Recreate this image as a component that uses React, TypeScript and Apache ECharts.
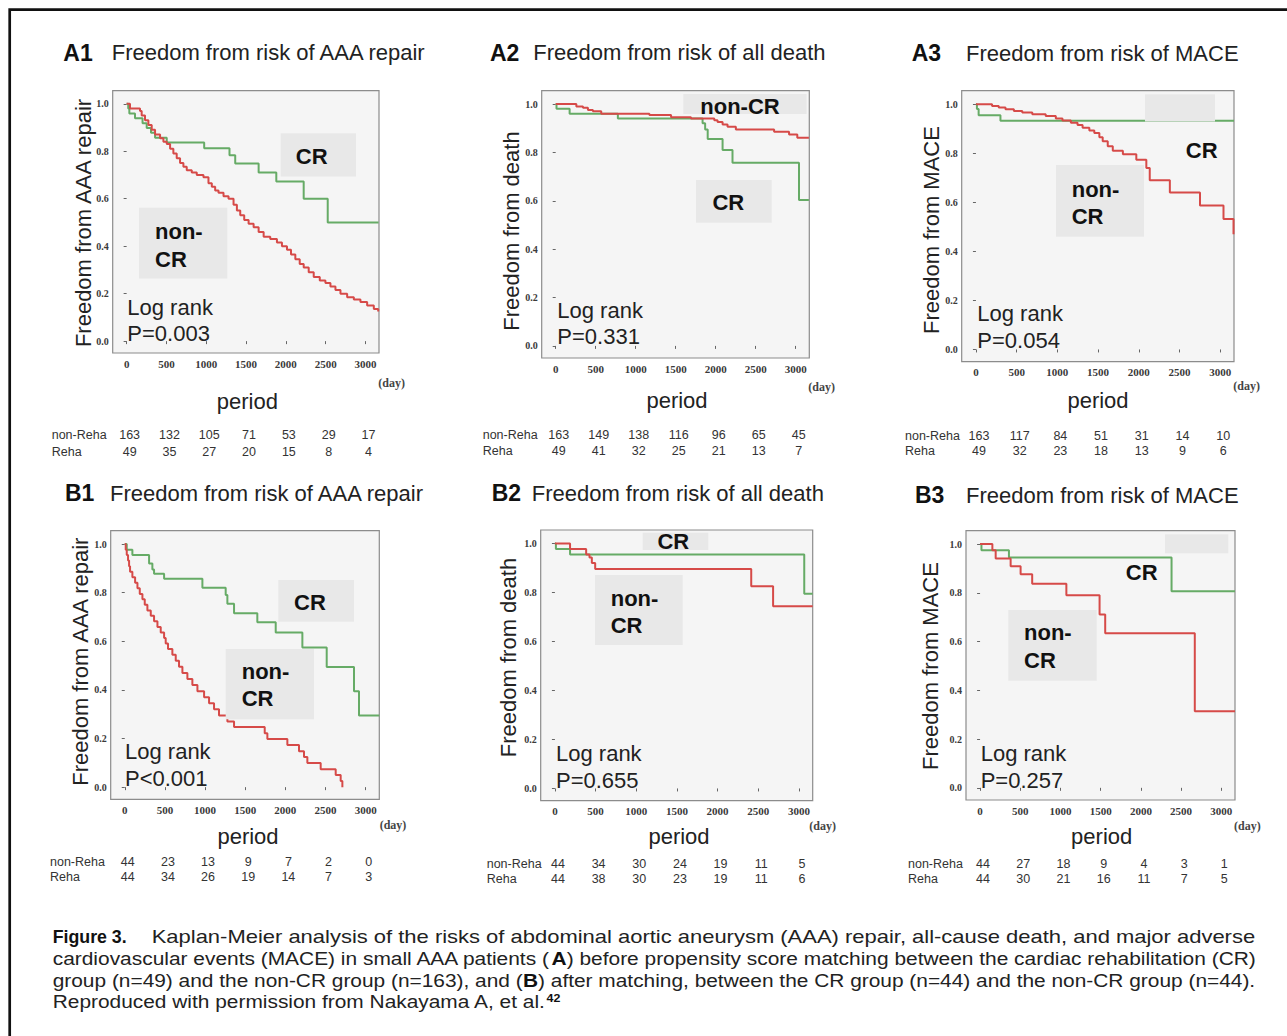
import React, { useEffect, useRef } from "react";
import * as echarts from "echarts";

// ---------------- data ----------------
const X_TICKS = [0, 500, 1000, 1500, 2000, 2500, 3000];
const Y_TICKS = [0, 0.2, 0.4, 0.6, 0.8, 1.0];

const PANEL_IDS = ["A1", "A2", "A3", "B1", "B2", "B3"];
const PANEL_TITLES = [
  "Freedom from risk of AAA repair",
  "Freedom from risk of all death",
  "Freedom from risk of MACE",
  "Freedom from risk of AAA repair",
  "Freedom from risk of all death",
  "Freedom from risk of MACE",
];
const Y_NAMES = [
  "Freedom from AAA repair",
  "Freedom from death",
  "Freedom from MACE",
  "Freedom from AAA repair",
  "Freedom from death",
  "Freedom from MACE",
];
const X_NAME = "period";
const X_UNIT = "(day)";
const LOG_RANK = "Log rank";
const P_TEXTS = ["P=0.003", "P=0.331", "P=0.054", "P<0.001", "P=0.655", "P=0.257"];
const GROUP_ROWS = ["non-Reha", "Reha"];

// Kaplan-Meier curves [day, survival]
const A1_CR = [[0, 1], [20, 0.98], [34, 0.959], [105, 0.939], [200, 0.918], [252, 0.898], [306, 0.878], [357, 0.857], [504, 0.837], [974, 0.813], [1292, 0.783], [1364, 0.748], [1658, 0.71], [1880, 0.672], [2224, 0.6], [2526, 0.5], [3165, 0.5]];
const A1_NONCR = [[0, 1], [42, 0.98], [168, 0.97], [189, 0.95], [231, 0.93], [273, 0.91], [315, 0.89], [357, 0.87], [420, 0.855], [462, 0.84], [504, 0.83], [546, 0.81], [587, 0.79], [629, 0.77], [671, 0.75], [713, 0.735], [755, 0.72], [818, 0.71], [881, 0.7], [965, 0.69], [1028, 0.665], [1070, 0.65], [1112, 0.635], [1154, 0.625], [1217, 0.61], [1280, 0.6], [1343, 0.575], [1385, 0.55], [1427, 0.53], [1477, 0.51], [1532, 0.495], [1595, 0.48], [1658, 0.46], [1721, 0.44], [1804, 0.43], [1888, 0.415], [1951, 0.4], [2014, 0.385], [2065, 0.365], [2119, 0.345], [2174, 0.325], [2224, 0.31], [2287, 0.29], [2350, 0.27], [2426, 0.255], [2497, 0.245], [2560, 0.23], [2623, 0.215], [2686, 0.2], [2770, 0.185], [2854, 0.175], [2937, 0.165], [3021, 0.15], [3105, 0.135], [3160, 0.125]];

const A2_CR = [[0, 1], [10, 0.98], [174, 0.96], [777, 0.94], [1836, 0.92], [1868, 0.895], [1900, 0.855], [2086, 0.81], [2210, 0.757], [3041, 0.603], [3165, 0.603]];
const A2_NONCR = [[0, 1], [258, 0.99], [341, 0.985], [403, 0.975], [465, 0.97], [569, 0.96], [1171, 0.955], [1442, 0.945], [1691, 0.94], [1982, 0.933], [2023, 0.926], [2086, 0.915], [2148, 0.906], [2252, 0.895], [2730, 0.885], [2917, 0.874], [3020, 0.86], [3165, 0.86]];

const A3_CR = [[0, 1], [12, 0.98], [33, 0.955], [301, 0.932], [3170, 0.932]];
const A3_NONCR = [[0, 1], [198, 0.993], [280, 0.986], [363, 0.979], [466, 0.972], [569, 0.966], [692, 0.959], [857, 0.952], [981, 0.942], [1063, 0.934], [1166, 0.924], [1248, 0.915], [1310, 0.904], [1393, 0.893], [1454, 0.883], [1516, 0.865], [1557, 0.849], [1619, 0.828], [1681, 0.81], [1805, 0.796], [1970, 0.773], [2093, 0.74], [2135, 0.69], [2382, 0.64], [2752, 0.587], [3041, 0.532], [3164, 0.47]];

const B1_CR = [[0, 1], [25, 0.977], [95, 0.955], [303, 0.92], [344, 0.895], [365, 0.878], [490, 0.857], [967, 0.82], [1257, 0.79], [1278, 0.754], [1361, 0.715], [1651, 0.678], [1880, 0.636], [2212, 0.574], [2515, 0.494], [2855, 0.394], [2917, 0.295], [3170, 0.295]];
const B1_NONCR = [[0, 1], [12, 0.977], [25, 0.955], [41, 0.932], [54, 0.909], [66, 0.886], [95, 0.864], [129, 0.841], [158, 0.818], [187, 0.795], [220, 0.773], [249, 0.75], [282, 0.727], [324, 0.705], [365, 0.682], [407, 0.659], [448, 0.636], [490, 0.614], [510, 0.591], [539, 0.568], [593, 0.545], [635, 0.52], [676, 0.495], [718, 0.47], [780, 0.445], [842, 0.42], [905, 0.395], [988, 0.37], [1050, 0.345], [1112, 0.32], [1174, 0.295], [1278, 0.27], [1361, 0.247], [1743, 0.222], [1776, 0.198], [2025, 0.173], [2170, 0.148], [2232, 0.124], [2274, 0.099], [2440, 0.074], [2627, 0.05], [2689, 0.025], [2710, 0.0]];

const B2_CR = [[0, 1], [12, 0.977], [186, 0.955], [3066, 0.795], [3170, 0.795]];
const B2_NONCR = [[0, 1], [186, 0.977], [384, 0.955], [425, 0.943], [454, 0.92], [495, 0.896], [2414, 0.825], [2683, 0.744], [3170, 0.744]];

const B3_CR = [[0, 1], [17, 0.975], [359, 0.945], [2381, 0.807], [3170, 0.807]];
const B3_NONCR = [[0, 1], [153, 0.975], [194, 0.941], [380, 0.909], [504, 0.876], [648, 0.837], [1073, 0.79], [1486, 0.711], [1556, 0.634], [2670, 0.314], [3170, 0.314]];

// numbers at risk at 0, 500, ..., 3000 days
const A1_RISK_NONREHA = [163, 132, 105, 71, 53, 29, 17];
const A1_RISK_REHA = [49, 35, 27, 20, 15, 8, 4];
const A2_RISK_NONREHA = [163, 149, 138, 116, 96, 65, 45];
const A2_RISK_REHA = [49, 41, 32, 25, 21, 13, 7];
const A3_RISK_NONREHA = [163, 117, 84, 51, 31, 14, 10];
const A3_RISK_REHA = [49, 32, 23, 18, 13, 9, 6];
const B1_RISK_NONREHA = [44, 23, 13, 9, 7, 2, 0];
const B1_RISK_REHA = [44, 34, 26, 19, 14, 7, 3];
const B2_RISK_NONREHA = [44, 34, 30, 24, 19, 11, 5];
const B2_RISK_REHA = [44, 38, 30, 23, 19, 11, 6];
const B3_RISK_NONREHA = [44, 27, 18, 9, 4, 3, 1];
const B3_RISK_REHA = [44, 30, 21, 16, 11, 7, 5];

const CR_CURVES = [A1_CR, A2_CR, A3_CR, B1_CR, B2_CR, B3_CR];
const NONCR_CURVES = [A1_NONCR, A2_NONCR, A3_NONCR, B1_NONCR, B2_NONCR, B3_NONCR];
const RISK_NONREHA = [A1_RISK_NONREHA, A2_RISK_NONREHA, A3_RISK_NONREHA, B1_RISK_NONREHA, B2_RISK_NONREHA, B3_RISK_NONREHA];
const RISK_REHA = [A1_RISK_REHA, A2_RISK_REHA, A3_RISK_REHA, B1_RISK_REHA, B2_RISK_REHA, B3_RISK_REHA];

const CAPTION_BOLD = "Figure 3.";
const CAPTION_L1 = "Kaplan-Meier analysis of the risks of abdominal aortic aneurysm (AAA) repair, all-cause death, and major adverse";
const CAPTION_L2 = ["cardiovascular events (MACE) in small AAA patients (", "A", ") before propensity score matching between the cardiac rehabilitation (CR)"];
const CAPTION_L3 = ["group (n=49) and the non-CR group (n=163), and (", "B", ") after matching, between the CR group (n=44) and the non-CR group (n=44)."];
const CAPTION_L4 = ["Reproduced with permission from Nakayama A, et al.", "42"];

// ---------------- layout / style ----------------
const X_MIN = -175;
const X_MAX = 3170;
const Y_MIN = -0.05;
const Y_MAX = 1.055;
const SANS = "'Liberation Sans', Arial, Helvetica, sans-serif";
const SERIF = "'Liberation Serif', 'Times New Roman', serif";
const RED = "#d64a48";
const GREEN = "#66ab66";
const BOX = "#e8e8e8";
const INK = "#1e1e1e";

type Lbl = { t: string; x: number; y: number; a?: string };
type Lay = {
  grid: number[]; idX: number; titleX: number; titleY: number; yName: number[];
  period: number[]; day: number[]; log: number[]; risk: number[];
  boxes: number[][]; labels: Lbl[];
};

const LAYOUT: Lay[] = [
  {
    grid: [112.7, 90.7, 266.3, 262.3], idX: 63.3, titleX: 111.7, titleY: 52.7, yName: [83.3, 223],
    period: [247.3, 401.7], day: [391.7, 383.3], log: [127.3, 307.7, 333.3], risk: [51.7, 435, 451.7],
    boxes: [[280.7, 133.3, 75.3, 43.3], [139, 207.7, 88.3, 70.7]],
    labels: [{ t: "CR", x: 311.7, y: 156.7, a: "center" }, { t: "non-", x: 155, y: 231.7 }, { t: "CR", x: 155, y: 259 }],
  },
  {
    grid: [541.7, 90.7, 267.6, 267.3], idX: 490, titleX: 533.3, titleY: 52.7, yName: [511.7, 231],
    period: [677, 400], day: [821.7, 386.7], log: [557.3, 310, 336.7], risk: [482.7, 435, 450.7],
    boxes: [[683.3, 94, 123.3, 20], [696, 180, 75.7, 42.7]],
    labels: [{ t: "non-CR", x: 740, y: 106, a: "center" }, { t: "CR", x: 728.3, y: 202.7, a: "center" }],
  },
  {
    grid: [961.7, 90.7, 272.3, 271], idX: 911.7, titleX: 966, titleY: 53.3, yName: [931.7, 230],
    period: [1098, 400], day: [1246.7, 386], log: [977.3, 313.3, 340], risk: [905, 436, 450.7],
    boxes: [[1145, 94.3, 70, 27.3], [1056, 165, 88, 71.7]],
    labels: [{ t: "CR", x: 1201.7, y: 150, a: "center" }, { t: "non-", x: 1071.7, y: 189.3 }, { t: "CR", x: 1071.7, y: 216.7 }],
  },
  {
    grid: [110.7, 530.7, 268.6, 268.6], idX: 65, titleX: 110, titleY: 493.3, yName: [80.7, 661.7],
    period: [248, 836], day: [393, 825], log: [125, 751.7, 778.3], risk: [50, 861.7, 877.3],
    boxes: [[278.3, 580, 75.7, 41.7], [225.7, 649, 88.3, 70.3]],
    labels: [{ t: "CR", x: 310, y: 602.7, a: "center" }, { t: "non-", x: 241.7, y: 671.7 }, { t: "CR", x: 241.7, y: 698.3 }],
  },
  {
    grid: [540.7, 530, 272, 270.7], idX: 491.7, titleX: 531.7, titleY: 493.3, yName: [508.3, 657.5],
    period: [679, 836.7], day: [822.7, 826], log: [556, 753.3, 780], risk: [486.7, 864, 879.3],
    boxes: [[642.7, 532.7, 65.6, 17.3], [595, 575, 87.7, 70]],
    labels: [{ t: "CR", x: 673.3, y: 541.7, a: "center" }, { t: "non-", x: 610.7, y: 598.3 }, { t: "CR", x: 610.7, y: 625 }],
  },
  {
    grid: [966, 530.7, 269, 269.3], idX: 915, titleX: 966, titleY: 495, yName: [930, 666],
    period: [1101.7, 836.7], day: [1247.3, 826], log: [980.7, 753.3, 780.7], risk: [908, 864, 879.3],
    boxes: [[1165, 534.3, 63.3, 19], [1008.3, 610, 88.4, 70.7]],
    labels: [{ t: "CR", x: 1141.7, y: 572.7, a: "center" }, { t: "non-", x: 1024, y: 632.7 }, { t: "CR", x: 1024, y: 660 }],
  },
];

const CAP_SIZE = 18.5;
const CAP_LEFT = 52.7;
const CAP_RIGHT = 1256;
const CAP_L1_START = 151.7;
const CAP_BOLD_END = 126.7;
const CAP_Y = [936.7, 958.3, 980, 1001.7];

function measure(s: string, font: string): number {
  const c = document.createElement("canvas").getContext("2d");
  if (!c) return s.length * 8;
  c.font = font;
  return c.measureText(s).width;
}

function xPix(l: Lay, day: number): number {
  const [gl, , gw] = l.grid;
  return gl + ((day - X_MIN) / (X_MAX - X_MIN)) * gw;
}

function txt(text: string, x: number, y: number, size: number, opts: any = {}) {
  return {
    type: "text",
    x,
    y,
    z: 11,
    silent: true,
    rotation: opts.rotation || 0,
    scaleX: opts.scaleX || 1,
    style: {
      text,
      fill: opts.fill || INK,
      font: `${opts.weight || "normal"} ${size}px ${opts.family || SANS}`,
      align: opts.align || "left",
      verticalAlign: "middle",
      rich: opts.rich,
    },
  };
}

function buildOption() {
  const grids: any[] = [];
  const xAxes: any[] = [];
  const yAxes: any[] = [];
  const series: any[] = [];
  const graphics: any[] = [];

  // figure frame
  graphics.push({
    type: "rect",
    z: 12,
    silent: true,
    shape: { x: 9.7, y: 9.7, width: 1400, height: 1200 },
    style: { fill: "none", stroke: "#111", lineWidth: 2.7 },
  });

  LAYOUT.forEach((l, i) => {
    const [gl, gt, gw, gh] = l.grid;
    grids.push({
      left: gl, top: gt, width: gw, height: gh, show: true,
      backgroundColor: "#f5f5f5", borderColor: "#8c8c8c", borderWidth: 1.2,
    });
    xAxes.push({
      type: "value", gridIndex: i, min: X_MIN, max: X_MAX,
      axisLine: { show: false }, splitLine: { show: false },
      axisTick: { show: true, customValues: X_TICKS, length: 3, lineStyle: { color: "#666", width: 1 } },
      axisLabel: {
        customValues: X_TICKS, fontFamily: SERIF, fontWeight: "bold", fontSize: 11, color: "#3a3a3a", margin: 5,
        formatter: (v: number) => String(Math.round(v)),
      },
    });
    yAxes.push({
      type: "value", gridIndex: i, min: Y_MIN, max: Y_MAX,
      axisLine: { show: false }, splitLine: { show: false },
      axisTick: { show: true, customValues: Y_TICKS, length: 3, lineStyle: { color: "#666", width: 1 } },
      axisLabel: {
        customValues: Y_TICKS, fontFamily: SERIF, fontWeight: "bold", fontSize: 10, color: "#3a3a3a", margin: 4,
        formatter: (v: number) => v.toFixed(1),
      },
    });
    series.push({
      type: "line", name: "CR", xAxisIndex: i, yAxisIndex: i, data: CR_CURVES[i], step: "end",
      symbol: "none", silent: true, z: 3,
      lineStyle: { color: GREEN, width: 2 }, itemStyle: { color: GREEN },
    });
    series.push({
      type: "line", name: "non-CR", xAxisIndex: i, yAxisIndex: i, data: NONCR_CURVES[i], step: "end",
      symbol: "none", silent: true, z: 4,
      lineStyle: { color: RED, width: 2 }, itemStyle: { color: RED },
    });

    // titles
    graphics.push(txt(PANEL_IDS[i], l.idX, l.titleY, 23, { weight: "bold", fill: "#111" }));
    graphics.push(txt(PANEL_TITLES[i], l.titleX, l.titleY, 22, { fill: "#222" }));
    // axis names
    graphics.push(txt(Y_NAMES[i], l.yName[0], l.yName[1], 22, { align: "center", rotation: Math.PI / 2, fill: "#222" }));
    graphics.push(txt(X_NAME, l.period[0], l.period[1], 22, { align: "center", fill: "#222" }));
    graphics.push(txt(X_UNIT, l.day[0], l.day[1], 12, { align: "center", family: SERIF, weight: "bold", fill: "#444" }));
    // log rank
    graphics.push(txt(LOG_RANK, l.log[0], l.log[1], 22, { fill: "#222" }));
    graphics.push(txt(P_TEXTS[i], l.log[0], l.log[2], 22, { fill: "#222" }));
    // label boxes
    l.boxes.forEach((b) => {
      graphics.push({
        type: "rect", z: 10, silent: true,
        shape: { x: b[0], y: b[1], width: b[2], height: b[3] },
        style: { fill: BOX },
      });
    });
    l.labels.forEach((lb) => {
      graphics.push(txt(lb.t, lb.x, lb.y, 22, { weight: "bold", align: lb.a || "left", fill: "#111" }));
    });
    // numbers at risk
    graphics.push(txt(GROUP_ROWS[0], l.risk[0], l.risk[1], 12.5, { fill: "#333" }));
    graphics.push(txt(GROUP_ROWS[1], l.risk[0], l.risk[2], 12.5, { fill: "#333" }));
    X_TICKS.forEach((t, k) => {
      const px = xPix(l, t) + 3;
      graphics.push(txt(String(RISK_NONREHA[i][k]), px, l.risk[1], 12.5, { align: "center", fill: "#333" }));
      graphics.push(txt(String(RISK_REHA[i][k]), px, l.risk[2], 12.5, { align: "center", fill: "#333" }));
    });
  });

  // caption
  const fN = `normal ${CAP_SIZE}px ${SANS}`;
  const fB = `bold ${CAP_SIZE}px ${SANS}`;
  const boldW = measure(CAPTION_BOLD, fB);
  graphics.push(txt(CAPTION_BOLD, CAP_LEFT, CAP_Y[0], CAP_SIZE, {
    weight: "bold", fill: "#111", scaleX: (CAP_BOLD_END - CAP_LEFT) / boldW,
  }));
  const l1W = measure(CAPTION_L1, fN);
  graphics.push(txt(CAPTION_L1, CAP_L1_START, CAP_Y[0], CAP_SIZE, {
    fill: "#222", scaleX: (CAP_RIGHT - CAP_L1_START) / l1W,
  }));
  const rich = {
    n: { fontSize: CAP_SIZE, fontFamily: SANS, fill: "#222", color: "#222" },
    b: { fontSize: CAP_SIZE, fontFamily: SANS, fontWeight: "bold", fill: "#111", color: "#111" },
    s: { fontSize: 11, fontFamily: SANS, fontWeight: "bold", fill: "#111", color: "#111", verticalAlign: "top" },
  };
  const l2W = measure(CAPTION_L2[0], fN) + measure(CAPTION_L2[1], fB) + measure(CAPTION_L2[2], fN);
  const l3W = measure(CAPTION_L3[0], fN) + measure(CAPTION_L3[1], fB) + measure(CAPTION_L3[2], fN);
  const s2 = (CAP_RIGHT - CAP_LEFT) / l2W;
  const s3 = (CAP_RIGHT - CAP_LEFT) / l3W;
  graphics.push(txt(`{n|${CAPTION_L2[0]}}{b|${CAPTION_L2[1]}}{n|${CAPTION_L2[2]}}`, CAP_LEFT, CAP_Y[1], CAP_SIZE, { rich, scaleX: s2 }));
  graphics.push(txt(`{n|${CAPTION_L3[0]}}{b|${CAPTION_L3[1]}}{n|${CAPTION_L3[2]}}`, CAP_LEFT, CAP_Y[2], CAP_SIZE, { rich, scaleX: s3 }));
  graphics.push(txt(`{n|${CAPTION_L4[0]}}{s|${CAPTION_L4[1]}}`, CAP_LEFT, CAP_Y[3], CAP_SIZE, { rich, scaleX: (s2 + s3) / 2 }));

  return {
    animation: false,
    backgroundColor: "#ffffff",
    grid: grids,
    xAxis: xAxes,
    yAxis: yAxes,
    series,
    graphic: { elements: graphics },
  };
}

export default function App() {
  const ref = useRef<HTMLDivElement>(null);
  useEffect(() => {
    if (!ref.current) return;
    const chart = echarts.init(ref.current, null, { renderer: "svg" });
    chart.setOption(buildOption() as any);
    return () => chart.dispose();
  }, []);
  return (
    <div
      ref={ref}
      style={{ position: "absolute", left: 0, top: 0, width: 1287, height: 1036, background: "#fff" }}
    />
  );
}
